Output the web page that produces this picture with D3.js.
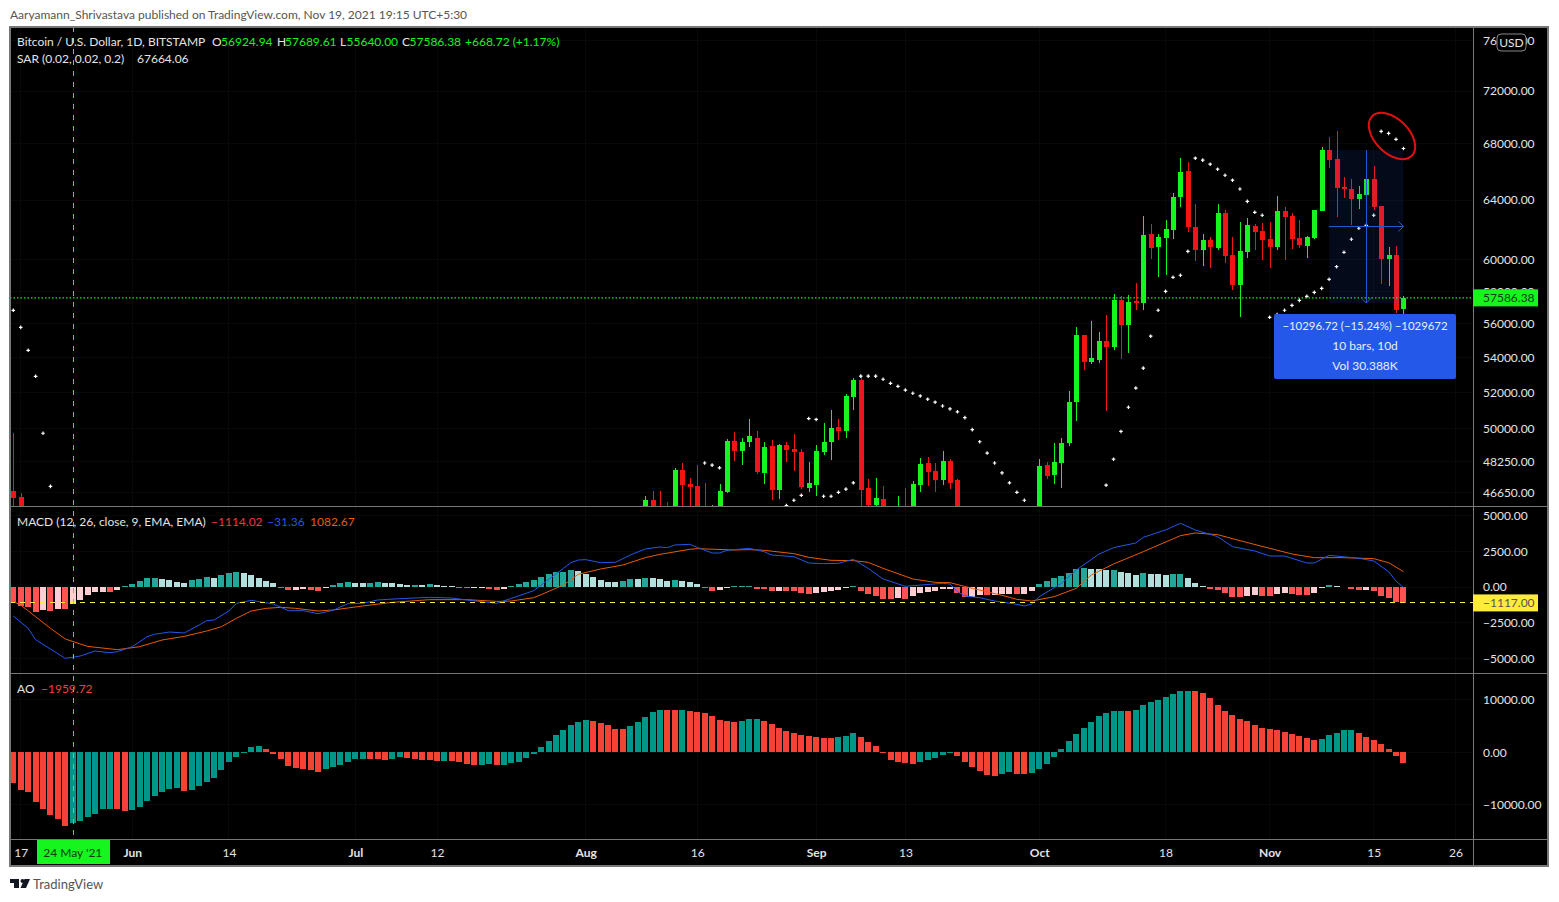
<!DOCTYPE html>
<html>
<head>
<meta charset="utf-8">
<title>BTCUSD</title>
<script src="https://cdn.jsdelivr.net/npm/d3@7"></script>
<style>
  html, body { margin: 0; padding: 0; background: #fff; }
  svg { display: block; }
  text { font-family: Lato, "Open Sans", sans-serif; font-size: 12px; }
</style>
</head>
<body>
<div id="chart"></div>
<script>
// Daily bars, day number counted from 16 May 2021
var firstDay = new Date(Date.UTC(2021, 4, 16));
var lastAxisDay = new Date(Date.UTC(2021, 10, 26));

// Candles (bars left out are below the visible price range)
var candleDay = [0, 1,
  85, 86, 87, 88, 89, 90, 91, 92, 93, 94, 95, 96, 97, 98, 99,
  100, 101, 102, 103, 104, 105, 106, 107, 108, 109, 110, 111, 112, 113, 114, 115, 116, 117, 118, 119,
  120, 121, 122, 123, 124, 125, 126, 127,
  138, 139,
  140, 141, 142, 143, 144, 145, 146, 147, 148, 149, 150, 151, 152, 153, 154, 155, 156, 157, 158, 159,
  160, 161, 162, 163, 164, 165, 166, 167, 168, 169, 170, 171, 172, 173, 174, 175, 176, 177, 178, 179,
  180, 181, 182, 183, 184, 185, 186, 187];
var candleOpen = [46740, 46430,
  43800, 46280, 45580, 45550, 44400, 47840, 47120, 47020, 45900, 44700, 44800, 46700, 49350, 48810, 49260,
  49510, 47640, 49050, 46810, 49100, 48910, 48760, 46900, 47070, 48760, 49260, 50070, 49900, 51750, 52700, 46900, 46050, 46350, 44850, 45150,
  45950, 44950, 47070, 48190, 47790, 47280, 48300, 47280,
  43800, 48080,
  47560, 48190, 49230, 51470, 55330, 53730, 53850, 54970, 54620, 57450, 55920, 57390, 57270, 61700, 60840, 61430, 61970, 64210, 66050, 62170,
  60640, 61300, 60770, 63120, 60320, 58420, 60510, 62230, 61900, 61370, 60840, 63250, 62910, 61430, 60900, 61430, 63250, 67560, 66910, 64920,
  64780, 64070, 64350, 65480, 63590, 60060, 60340, 56924.94];
var candleHigh = [49780, 46650,
  46500, 46760, 46760, 46200, 47940, 48190, 47430, 48090, 47170, 46050, 47120, 49450, 49830, 49510, 50550,
  49900, 49260, 49400, 49200, 49300, 49700, 48910, 48250, 49150, 50330, 51040, 50550, 51900, 52810, 52930, 47380, 47430, 47020, 45900, 46500,
  46900, 47250, 48450, 48500, 48190, 48810, 48400, 47330,
  48390, 48240,
  49230, 49500, 52050, 55800, 55330, 56170, 55510, 56530, 57830, 57700, 57770, 58530, 62910, 62370, 61700, 62640, 64490, 66984, 66700, 63730,
  61700, 61500, 63730, 63320, 61500, 62500, 62770, 62370, 62440, 62500, 64280, 63520, 63120, 62640, 61570, 63320, 67780, 68530, 68960, 65620,
  65480, 64990, 65500, 66430, 63590, 60840, 60900, 57689.61];
var candleLow = [43800, 42200,
  42900, 44700, 45350, 43800, 44250, 45600, 45500, 45600, 44400, 44200, 43950, 46650, 48300, 48090, 49000,
  47590, 47120, 46300, 46350, 48250, 47790, 46860, 46700, 46500, 48600, 48350, 49400, 49510, 51040, 42800, 44600, 45500, 44150, 44500, 44750,
  43400, 44750, 46700, 47020, 46700, 47070, 46860, 42500,
  43300, 47360,
  47100, 46900, 49070, 50410, 53290, 53620, 53670, 50970, 54440, 53930, 54230, 56840, 56840, 60060, 58900, 59030, 61370, 63520, 61840, 59930,
  59610, 59480, 60640, 59810, 58100, 56410, 60120, 60640, 60000, 59480, 60640, 60000, 60700, 60770, 60120, 61370, 63250, 66260, 62840, 64140,
  62300, 63390, 63650, 63320, 58470, 58350, 56630, 55640];
var candleClose = [46410, 43500,
  46300, 45600, 45530, 44400, 47840, 47070, 46970, 45900, 44700, 44800, 46760, 49350, 48810, 49300, 49590,
  47690, 49000, 46810, 49100, 48860, 48760, 46970, 47170, 48810, 49260, 50010, 49900, 51800, 52700, 46810, 46040, 46400, 44850, 45150, 45950,
  44950, 47120, 48150, 47740, 47280, 48300, 47170, 43000,
  48030, 47510,
  48240, 49230, 51470, 55330, 53730, 53960, 54970, 54620, 57450, 55920, 57330, 57270, 61630, 60770, 61500, 62030, 64210, 65976, 62170, 60640,
  61300, 60840, 63120, 60260, 58420, 60570, 62300, 61830, 61300, 60840, 63250, 62840, 61370, 60970, 61500, 63320, 67560, 66840, 64850, 64780,
  64070, 64420, 65480, 63520, 60060, 60340, 56840, 57586.38];

// Parabolic SAR dots that fall inside the price pane
var sarDay = [0, 1, 2, 3, 4, 5,
  93, 94, 95, 104, 105, 106, 107, 108, 109, 110, 111, 112, 113, 114, 115, 116, 117, 118, 119,
  120, 121, 122, 123, 124, 125, 126, 127, 128, 129, 130, 131, 132, 133, 134, 135, 136,
  147, 148, 149, 150, 151, 152, 153, 154, 155, 156, 157, 158, 159,
  160, 161, 162, 163, 164, 165, 166, 167, 168, 169, 170, 171, 172, 173, 174, 175, 176, 177, 178, 179,
  180, 181, 182, 183, 184, 185, 186, 187];
var sarValue = [56815, 55780, 54415, 52907, 49753, 46980,
  48180, 48070, 47930, 46020, 46280, 46530, 50550, 50500, 46480, 46480, 46680, 46840, 47160, 52920, 52920, 52920, 52740, 52510, 52340,
  52130, 51950, 51800, 51620, 51450, 51240, 51080, 50920, 50600, 49950, 49300, 48700, 48180, 47670, 47160, 46680, 46280,
  47040, 48380, 49850, 51170, 52240, 53380, 55250, 56820, 57990, 58880, 59010, 60550, 66960,
  66820, 66530, 66170, 65740, 65390, 64770, 63910, 63160, 62960, 56390, 56560, 56820, 57120, 57430, 57680, 57930, 58180, 58750, 59560, 60490,
  61350, 62080, 62280, 62960, 68930, 68780, 68340, 67664.06];

// MACD histogram, one value per bar from day 0
var macdHist = [-1030, -1334, -1404, -1755, -1615, -1685, -1544, -1568, -1193, -913,
  -562, -351, -340, -351, -211, 94, 211, 421, 632, 644,
  562, 491, 351, 281, 491, 562, 702, 632, 842, 983,
  1053, 983, 842, 632, 421, 281, -35, -211, -199, -140,
  -211, -281, -47, 140, 281, 351, 281, 269, 292, 351,
  281, 257, 211, 140, 152, 140, 211, 140, 82, 70,
  -35, -70, -58, -47, -140, -211, -140, 70, 211, 351,
  491, 702, 913, 1053, 1076, 1193, 1123, 913, 702, 491,
  351, 328, 421, 562, 538, 632, 608, 562, 421, 491,
  421, 351, 211, -47, -281, -211, -47, 70, 82, 94,
  -140, -152, -281, -269, -281, -292, -421, -491, -421, -351,
  -281, -211, -70, 70, -281, -491, -632, -842, -854, -772,
  -842, -632, -421, -351, -281, -140, -129, -421, -702, -679,
  -562, -573, -562, -491, -480, -491, -480, -281, 211, 421,
  632, 772, 983, 1264, 1334, 1264, 1252, 1193, 1205, 1053,
  983, 842, 983, 936, 913, 842, 889, 913, 632, 281,
  94, -140, -211, -421, -702, -714, -632, -562, -632, -644,
  -491, -421, -491, -562, -573, -421, -70, 140, 70, 23,
  -140, -211, -199, -281, -632, -772, -1053, -1114.02];

// MACD line, read at its bends
var macdDay = [0, 2, 3, 5, 7, 9, 11, 13, 14, 16, 18, 19, 21, 23, 25, 26, 27, 29, 30, 32, 35, 37, 39, 41, 43, 45, 47, 49, 52, 56, 59, 61, 65,
  67, 70, 71, 74, 75, 76, 77, 79, 81, 83, 85, 87, 88, 89, 91, 92, 94, 95, 96, 99, 101, 102, 105, 107, 109, 111, 113, 115, 117, 120, 121, 125, 126, 127, 128, 130, 132,
  133, 135, 136, 137, 138, 141, 143, 146, 148, 151, 152, 155, 157, 159, 162, 164, 167, 169, 171, 174, 175, 177, 181, 183, 185, 186, 187];
var macdLine = [-2036, -2902, -3697, -4352, -5008, -4844, -4493, -4610, -4540, -4189, -3487, -3320, -3159, -3229, -2668, -2363, -2317, -1685, -1147, -936, -1193, -1661, -1661, -1872, -1638, -1170, -1147, -913, -819, -725, -772, -913, -1147,
  -796, -257, 140, 1310, 1708, 1895, 1919, 1708, 1732, 2246, 2668, 2808, 2761, 2948, 2995, 2785, 2387, 2387, 2574, 2714, 2480, 2246, 2129, 1685, 1638, 1661, 1942, 1310, 562, 47, 94, 257, 211, -328, -632, -749, -983,
  -1053, -1217, -1334, -1193, -679, 257, 1193, 2293, 2761, 3089, 3487, 4001, 4469, 4001, 3533, 2831, 2527, 2176, 2176, 1685, 1685, 2223, 2012, 1825, 1076, 421, -31.36];

// Signal line, read at its bends
var signalDay = [0, 1, 3, 5, 7, 9, 10, 12, 14, 17, 20, 23, 26, 28, 30, 32, 34, 36, 38, 41, 43, 47, 51, 56, 61, 65,
  66, 67, 70, 71, 74, 76, 79, 82, 85, 87, 91, 92, 97, 99, 101, 105, 107, 110, 113, 115, 117, 120, 121, 124, 126, 129,
  133, 135, 137, 140, 143, 145, 148, 152, 157, 159, 162, 165, 169, 172, 175, 179, 183, 185, 187];
var signalLine = [-1030, -1264, -2083, -2902, -3650, -4001, -4165, -4282, -4399, -4189, -3721, -3463, -3089, -2785, -2200, -1685, -1498, -1427, -1498, -1685, -1615, -1334, -1076, -889, -889, -1006,
  -1006, -983, -749, -538, 140, 889, 1264, 1544, 2059, 2293, 2644, 2691, 2597, 2621, 2574, 2340, 2083, 1872, 1849, 1732, 1310, 749, 562, 328, 304, -94,
  -585, -866, -983, -679, -94, 842, 1615, 2480, 3604, 3791, 3674, 3253, 2714, 2317, 2059, 2059, 1989, 1708, 1082.67];

// Awesome Oscillator, one value per bar from day 0
var aoValue = [-5842, -7176, -7557, -9462, -10795, -11938, -12700, -14034, -13462, -13081,
  -12319, -11748, -10795, -10732, -10827, -11176, -10986, -10414, -9271, -8319,
  -7557, -6985, -6795, -7366, -7176, -6414, -5652, -4890, -3366, -1842,
  -889, -190, 1016, 1207, 635, -254, -1270, -2604, -2985, -3175,
  -3366, -3747, -3175, -2794, -2413, -1842, -1270, -1238, -1270, -1302,
  -1461, -1270, -889, -1143, -1270, -1461, -1492, -1651, -1619, -1651,
  -1842, -2223, -2413, -2381, -2223, -2413, -2381, -2032, -1842, -1080,
  -318, 1016, 2159, 3302, 4255, 5207, 5779, 6160, 5969, 5588,
  5207, 4445, 4413, 5017, 5779, 6731, 7684, 8065, 8033, 8001,
  8065, 7874, 7684, 7493, 6922, 6160, 5969, 5779, 5969, 6350,
  6382, 5969, 5398, 4636, 4064, 3683, 3302, 3112, 2921, 2731,
  2699, 2921, 3112, 3683, 2921, 1969, 1207, 40, -1461, -1842,
  -2032, -2223, -1842, -1461, -1080, -508, -127, -699, -1842, -2794,
  -3556, -4318, -4509, -4128, -3747, -4128, -4159, -3937, -3175, -2223,
  -889, 635, 2159, 3493, 4636, 5779, 6922, 7493, 7874, 7906,
  7874, 8065, 9017, 9589, 9970, 10541, 11113, 11684, 11716, 11684,
  11303, 10351, 9017, 7874, 7112, 6350, 5969, 5207, 4636, 4445,
  4255, 3874, 3493, 3112, 2731, 2350, 2540, 3302, 3683, 4255,
  4286, 3683, 2921, 2350, 1588, 635, -699, -1959.72];

// Axis ticks
var priceTicks = [76000, 72000, 68000, 64000, 60000, 58000, 56000, 54000, 52000, 50000, 48250, 46650];
var macdTicks = [5000, 2500, 0, -2500, -5000];
var aoTicks = [10000, 0, -10000];
var timeTickDay = [1, 16, 29, 46, 57, 77, 92, 108, 120, 138, 155, 169, 183, 194];
var timeTickLabel = ["17", "Jun", "14", "Jul", "12", "Aug", "16", "Sep", "13", "Oct", "18", "Nov", "15", "26"];
var monthLabels = ["Jun", "Jul", "Aug", "Sep", "Oct", "Nov"];

// Measure tool, crosshair and last price
var measureStartDay = 177, measureEndDay = 187, measureStartPrice = 67560, measureChange = -10296.72;
var crosshairDay = 8, crosshairMacd = -1117, lastPrice = 57586.38;

var width = 1559, height = 902;
var frame = { left: 10, right: 1548, top: 27, bottom: 866, axisX: 1473 };
var mainBottom = 506, macdBottom = 673, aoBottom = 839;

var up = "#17f51f", down = "#f21515", textColor = "#e4e4e4", lineGray = "#777";

function dayDate(d) { return d3.utcDay.offset(firstDay, d); }

var x = d3.scaleUtc().domain([firstDay, lastAxisDay]).range([13.3, 1455.5]);
var yPrice = d3.scaleLog().domain([46650, 72000]).range([492.9, 91]);
var yMacd = d3.scaleLinear().domain([-5000, 5000]).range([658.25, 515.75]);
var yAo = d3.scaleLinear().domain([-10000, 10000]).range([804.8, 699.8]);

function xDay(d) { return x(dayDate(d)); }

var svg = d3.select("#chart").append("svg").attr("width", width).attr("height", height);

// Page background and black chart area
svg.append("rect").attr("width", width).attr("height", height).attr("fill", "#fff");
svg.append("rect").attr("x", frame.left).attr("y", frame.top)
  .attr("width", frame.right - frame.left).attr("height", frame.bottom - frame.top)
  .attr("fill", "#000");

var defs = svg.append("defs");
defs.append("clipPath").attr("id", "clipMain").append("rect")
  .attr("x", frame.left).attr("y", frame.top)
  .attr("width", frame.axisX - frame.left).attr("height", mainBottom - frame.top);

// Faint grid
var grid = svg.append("g").attr("stroke", "#080808").attr("stroke-width", 1).attr("shape-rendering", "crispEdges");
timeTickDay.forEach(function(d) {
  grid.append("line").attr("x1", xDay(d)).attr("x2", xDay(d)).attr("y1", frame.top).attr("y2", aoBottom);
});
[[priceTicks, yPrice], [macdTicks, yMacd], [aoTicks, yAo]].forEach(function(pane) {
  pane[0].forEach(function(v) {
    grid.append("line").attr("x1", frame.left).attr("x2", frame.axisX).attr("y1", pane[1](v)).attr("y2", pane[1](v));
  });
});

// Candles
var indices = d3.range(candleDay.length);
var candles = svg.append("g").attr("clip-path", "url(#clipMain)").attr("shape-rendering", "crispEdges");
candles.selectAll("line").data(indices).enter().append("line")
  .attr("x1", function(i) { return Math.round(xDay(candleDay[i])) + 0.5; })
  .attr("x2", function(i) { return Math.round(xDay(candleDay[i])) + 0.5; })
  .attr("y1", function(i) { return yPrice(candleHigh[i]); })
  .attr("y2", function(i) { return yPrice(candleLow[i]); })
  .attr("stroke", function(i) { return candleClose[i] >= candleOpen[i] ? up : down; });
candles.selectAll("rect").data(indices).enter().append("rect")
  .attr("x", function(i) { return Math.round(xDay(candleDay[i])) - 2; })
  .attr("width", 5)
  .attr("y", function(i) { return yPrice(Math.max(candleOpen[i], candleClose[i])); })
  .attr("height", function(i) { return Math.max(1, Math.abs(yPrice(candleOpen[i]) - yPrice(candleClose[i]))); })
  .attr("fill", function(i) { return candleClose[i] >= candleOpen[i] ? up : down; });

// SAR dots
var sarSymbol = d3.symbol().type(d3.symbolCross).size(7);
svg.append("g").attr("clip-path", "url(#clipMain)").selectAll("path")
  .data(d3.range(sarDay.length)).enter().append("path")
  .attr("d", sarSymbol)
  .attr("transform", function(i) { return "translate(" + xDay(sarDay[i]) + "," + yPrice(sarValue[i]) + ")"; })
  .attr("fill", "#fff");

// Last price line
svg.append("line").attr("x1", frame.left).attr("x2", frame.axisX)
  .attr("y1", yPrice(lastPrice)).attr("y2", yPrice(lastPrice))
  .attr("stroke", up).attr("stroke-width", 1.2).attr("stroke-dasharray", "1.5,2");

// Measure tool
var measureEndPrice = measureStartPrice + measureChange;
var mx0 = xDay(measureStartDay), mx1 = xDay(measureEndDay), mxMid = xDay((measureStartDay + measureEndDay) / 2);
var my0 = yPrice(measureStartPrice), my1 = yPrice(measureEndPrice), myMid = (my0 + my1) / 2;
var measure = svg.append("g");
measure.append("rect").attr("x", mx0).attr("y", my0).attr("width", mx1 - mx0).attr("height", my1 - my0)
  .attr("fill", "#2962ff").attr("fill-opacity", 0.1);
var measureLine = measure.append("g").attr("stroke", "#2457d0").attr("fill", "none").attr("stroke-width", 1);
measureLine.append("line").attr("x1", mx0).attr("x2", mx1).attr("y1", myMid).attr("y2", myMid).attr("shape-rendering", "crispEdges");
measureLine.append("line").attr("x1", mxMid).attr("x2", mxMid).attr("y1", my0).attr("y2", my1).attr("shape-rendering", "crispEdges");
measureLine.append("path").attr("d", d3.line()([[mx1 - 5, myMid - 5], [mx1, myMid], [mx1 - 5, myMid + 5]]));
measureLine.append("path").attr("d", d3.line()([[mxMid - 5, my1 - 5], [mxMid, my1], [mxMid + 5, my1 - 5]]));

var tip = measure.append("g");
tip.append("rect").attr("x", 1274).attr("y", 314).attr("width", 182).attr("height", 65).attr("rx", 2)
  .attr("fill", "#2358e8");
["\u221210296.72 (\u221215.24%) \u22121029672", "10 bars, 10d", "Vol 30.388K"].forEach(function(t, i) {
  tip.append("text").attr("x", 1365).attr("y", 330 + i * 20).attr("text-anchor", "middle")
    .attr("fill", "#e8eefc").style("font-size", i === 0 ? "11.4px" : "12px").text(t);
});

// Red hand-drawn ellipse around the last SAR dots
svg.append("ellipse").attr("cx", 0).attr("cy", 0).attr("rx", 28).attr("ry", 17)
  .attr("transform", "translate(1392,136) rotate(45)")
  .attr("fill", "none").attr("stroke", "#e01010").attr("stroke-width", 2);

// MACD histogram
function macdColor(v, i) {
  var rising = i > 0 && v > macdHist[i - 1];
  if (v >= 0) return rising ? "#26a69a" : "#b2dfdb";
  return rising ? "#ffcdd2" : "#ff5252";
}
svg.append("g").attr("shape-rendering", "crispEdges").selectAll("rect")
  .data(macdHist).enter().append("rect")
  .attr("x", function(v, i) { return Math.round(xDay(i)) - 3; })
  .attr("width", 6)
  .attr("y", function(v) { return Math.min(yMacd(v), yMacd(0)); })
  .attr("height", function(v) { return Math.max(0.8, Math.abs(yMacd(v) - yMacd(0))); })
  .attr("fill", macdColor);

// MACD and signal lines
var lineMacd = d3.line()
  .x(function(d, i) { return xDay(macdDay[i]); })
  .y(function(d) { return yMacd(d); });
var lineSignal = d3.line()
  .x(function(d, i) { return xDay(signalDay[i]); })
  .y(function(d) { return yMacd(d); });
svg.append("path").attr("d", lineSignal(signalLine)).attr("fill", "none").attr("stroke", "#e65c00").attr("stroke-width", 1);
svg.append("path").attr("d", lineMacd(macdLine)).attr("fill", "none").attr("stroke", "#2457e6").attr("stroke-width", 1);

// AO histogram
svg.append("g").attr("shape-rendering", "crispEdges").selectAll("rect")
  .data(aoValue).enter().append("rect")
  .attr("x", function(v, i) { return Math.round(xDay(i)) - 3; })
  .attr("width", 6)
  .attr("y", function(v) { return Math.min(yAo(v), yAo(0)); })
  .attr("height", function(v) { return Math.max(0.8, Math.abs(yAo(v) - yAo(0))); })
  .attr("fill", function(v, i) { return i > 0 && v > aoValue[i - 1] ? "#009688" : "#f44336"; });

// Crosshair
svg.append("line").attr("x1", xDay(crosshairDay) + 0.4).attr("x2", xDay(crosshairDay) + 0.4)
  .attr("y1", frame.top).attr("y2", aoBottom)
  .attr("stroke", "#4fe04f").attr("stroke-dasharray", "5,6").attr("shape-rendering", "crispEdges");
svg.append("line").attr("x1", frame.left).attr("x2", frame.axisX)
  .attr("y1", yMacd(crosshairMacd)).attr("y2", yMacd(crosshairMacd))
  .attr("stroke", "#ffeb3b").attr("stroke-dasharray", "5,5").attr("shape-rendering", "crispEdges");

// Pane and axis borders
var borders = svg.append("g").attr("stroke", lineGray).attr("shape-rendering", "crispEdges");
borders.append("rect").attr("x", frame.left).attr("y", frame.top).attr("stroke-width", 1.5)
  .attr("width", frame.right - frame.left).attr("height", frame.bottom - frame.top).attr("fill", "none");
[mainBottom, macdBottom, aoBottom].forEach(function(y) {
  borders.append("line").attr("x1", frame.left).attr("x2", frame.right).attr("y1", y).attr("y2", y);
});
borders.append("line").attr("x1", frame.axisX).attr("x2", frame.axisX).attr("y1", frame.top).attr("y2", frame.bottom);

// Right axes
function drawRightAxis(scale, ticks) {
  var g = svg.append("g").attr("transform", "translate(1483,0)")
    .call(d3.axisRight(scale).tickValues(ticks).tickFormat(d3.format(".2f")).tickSize(0).tickPadding(0));
  g.select(".domain").remove();
  g.selectAll("text").attr("fill", textColor).style("font-size", "12px").style("font-family", "Lato");
}
drawRightAxis(yPrice, priceTicks);
drawRightAxis(yMacd, macdTicks);
drawRightAxis(yAo, aoTicks);

// Time axis
var timeAxis = svg.append("g").attr("transform", "translate(0," + aoBottom + ")")
  .call(d3.axisBottom(x).tickValues(timeTickDay.map(dayDate))
    .tickFormat(function(d, i) { return timeTickLabel[i]; }).tickSize(0).tickPadding(9));
timeAxis.select(".domain").remove();
timeAxis.selectAll("text").attr("fill", textColor).style("font-size", "12px").style("font-family", "Lato")
  .style("font-weight", function(d, i) { return monthLabels.indexOf(timeTickLabel[i]) >= 0 ? "700" : "400"; });

// Crosshair date label
svg.append("rect").attr("x", 37).attr("y", 840).attr("width", 73).attr("height", 24).attr("fill", up);
svg.append("text").attr("x", xDay(crosshairDay)).attr("y", 857).attr("text-anchor", "middle")
  .attr("fill", "#0b3d0b").text("24 May '21");

// Value tags on the price axis
function valueTag(y, fill, txt, txtColor) {
  svg.append("rect").attr("x", frame.axisX).attr("y", y - 8.5).attr("width", 65).attr("height", 17).attr("fill", fill);
  svg.append("text").attr("x", 1483).attr("y", y + 4).attr("fill", txtColor).text(txt);
}
valueTag(yPrice(lastPrice), up, d3.format(".2f")(lastPrice), "#0b3d0b");
valueTag(yMacd(crosshairMacd), "#ffeb3b", d3.format(".2f")(crosshairMacd), "#555");

// USD badge over the top price label
svg.append("rect").attr("x", 1497).attr("y", 34).attr("width", 29).attr("height", 17).attr("rx", 4)
  .attr("fill", "#000").attr("stroke", "#888");
svg.append("text").attr("x", 1511.5).attr("y", 47).attr("text-anchor", "middle").attr("fill", textColor).text("USD");

// Legends
function legend(parts, y) {
  parts.forEach(function(p) {
    svg.append("text").attr("x", p[0]).attr("y", y).attr("fill", p[2]).text(p[1]);
  });
}
legend([[17, "Bitcoin / U.S. Dollar, 1D, BITSTAMP", textColor],
  [212, "O", textColor], [221, "56924.94", up],
  [277, "H", textColor], [285, "57689.61", up],
  [340, "L", textColor], [346.5, "55640.00", up],
  [402, "C", textColor], [409.5, "57586.38", up],
  [465, "+668.72 (+1.17%)", up]], 46);
legend([[17, "SAR (0.02, 0.02, 0.2)", textColor], [137, "67664.06", textColor]], 63);
legend([[17, "MACD (12, 26, close, 9, EMA, EMA)", textColor],
  [211, "\u22121114.02", "#f23645"], [267, "\u221231.36", "#2457e6"], [310, "1082.67", "#e65c00"]], 526);
legend([[17, "AO", textColor], [41, "\u22121959.72", "#f44336"]], 693);

// Header line above the chart
svg.append("text").attr("x", 10).attr("y", 19).attr("fill", "#555")
  .text("Aaryamann_Shrivastava published on TradingView.com, Nov 19, 2021 19:15 UTC+5:30");

// TradingView mark and name
var logo = svg.append("g").attr("fill", "#131722");
logo.append("path").attr("d", "M10 879H19V888H14V883H10Z");
logo.append("circle").attr("cx", 22.5).attr("cy", 881).attr("r", 2);
logo.append("path").attr("d", "M24.5 879H30L26 888H20.5Z");
svg.append("text").attr("x", 33).attr("y", 889).attr("fill", "#555").style("font-size", "13px").text("TradingView");
</script>
</body>
</html>
